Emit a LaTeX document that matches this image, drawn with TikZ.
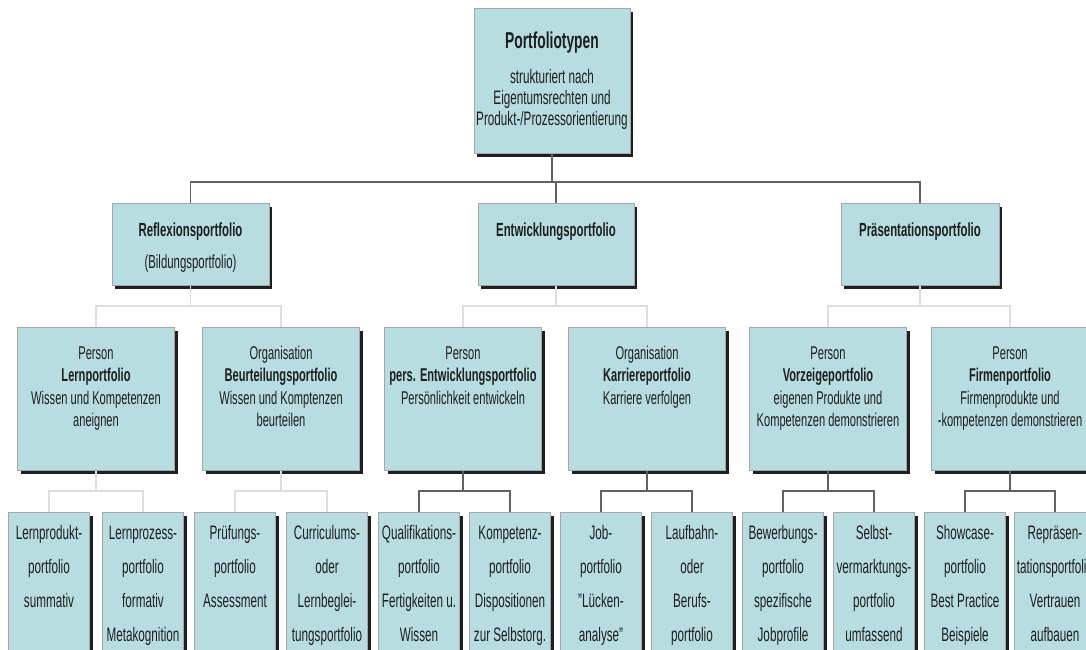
\documentclass[tikz,border=0pt]{standalone}
\usepackage{fontspec}
\setmainfont{Liberation Sans}[FakeStretch=0.6]
\usetikzlibrary{shadows}

\definecolor{boxfill}{RGB}{184,221,224}
\definecolor{txt}{RGB}{30,30,30}

% fixed-size cell: height, width, first baseline offset, content
\newcommand\cellbox[4]{\parbox[c][#1][t]{#2}{\centering\rule{0pt}{#3}#4\par}}
\newcommand\topfont{\fontsize{19.5}{21}\selectfont}
\newcommand\lvtwofont{\fontsize{19}{32}\selectfont}
\newcommand\lvthreefont{\fontsize{18.5}{22.5}\selectfont}
\newcommand\lvfourfont{\fontsize{19.5}{34}\selectfont}

\tikzset{
  pbox/.style={draw=black!35, line width=0.5pt, fill=boxfill, inner sep=0pt,
    anchor=north, text=txt,
    drop shadow={shadow xshift=3pt, shadow yshift=-3.5pt, opacity=1, fill=black!88}},
  darkline/.style={draw=black!62, line width=1.4pt},
  lightline/.style={draw=black!13, line width=1.8pt},
}

\begin{document}
\begin{tikzpicture}[x=1pt, y=-1pt]
\fill[white] (0,0) rectangle (1086,649);
\useasboundingbox (0,0) rectangle (1086,649);
\clip (0,0) rectangle (1086,649);

% bus lines of the three tree levels
\coordinate (busA) at (0,182);
\coordinate (busB) at (0,306);
\coordinate (busC) at (0,491);

% root
\node[pbox] (top) at (552,8) {\topfont\cellbox{145pt}{156pt}{40.5pt}{%
  {\fontsize{23}{25}\selectfont\bfseries Portfoliotypen}\\[13.5pt]
  strukturiert nach\\Eigentumsrechten und\\Produkt-/Prozessorientierung}};

% main types
\node[pbox] (ref) at (190.5,203) {\lvtwofont\cellbox{82pt}{157pt}{33pt}{%
  \textbf{Reflexionsportfolio}\\(Bildungsportfolio)}};
\node[pbox] (ent) at (556,203) {\lvtwofont\cellbox{82pt}{156pt}{33pt}{%
  \textbf{Entwicklungsportfolio}}};
\node[pbox] (pra) at (920,203) {\lvtwofont\cellbox{82pt}{158pt}{33pt}{%
  \textbf{Präsentationsportfolio}}};

% owner level
\node[pbox] (lern) at (96,327) {\lvthreefont\cellbox{143pt}{157pt}{32pt}{%
  Person\\\textbf{Lernportfolio}\\Wissen und Kompetenzen\\aneignen}};
\node[pbox] (beur) at (281,327) {\lvthreefont\cellbox{143pt}{157pt}{32pt}{%
  Organisation\\\textbf{Beurteilungsportfolio}\\Wissen und Komptenzen\\beurteilen}};
\node[pbox] (pers) at (463,327) {\lvthreefont\cellbox{143pt}{157pt}{32pt}{%
  Person\\\textbf{pers. Entwicklungsportfolio}\\Persönlichkeit entwickeln}};
\node[pbox] (karr) at (647,327) {\lvthreefont\cellbox{143pt}{157pt}{32pt}{%
  Organisation\\\textbf{Karriereportfolio}\\Karriere verfolgen}};
\node[pbox] (vorz) at (828,327) {\lvthreefont\cellbox{143pt}{157pt}{32pt}{%
  Person\\\textbf{Vorzeigeportfolio}\\eigenen Produkte und\\Kompetenzen demonstrieren}};
\node[pbox] (firm) at (1010,327) {\lvthreefont\cellbox{143pt}{157pt}{32pt}{%
  Person\\\textbf{Firmenportfolio}\\Firmenprodukte und\\-kompetenzen demonstrieren}};

% leaf portfolios
\node[pbox] (l1) at (49,512) {\lvfourfont\cellbox{148pt}{81pt}{27.5pt}{%
  Lernprodukt-\\portfolio\\summativ}};
\node[pbox] (l2) at (143,512) {\lvfourfont\cellbox{148pt}{81pt}{27.5pt}{%
  Lernprozess-\\portfolio\\formativ\\Metakognition}};
\node[pbox] (l3) at (235,512) {\lvfourfont\cellbox{148pt}{81pt}{27.5pt}{%
  Prüfungs-\\portfolio\\Assessment}};
\node[pbox] (l4) at (327,512) {\lvfourfont\cellbox{148pt}{81pt}{27.5pt}{%
  Curriculums-\\oder\\Lernbeglei-\\tungsportfolio}};
\node[pbox] (l5) at (419,512) {\lvfourfont\cellbox{148pt}{81pt}{27.5pt}{%
  Qualifikations-\\portfolio\\Fertigkeiten u.\\Wissen}};
\node[pbox] (l6) at (510,512) {\lvfourfont\cellbox{148pt}{81pt}{27.5pt}{%
  Kompetenz-\\portfolio\\Dispositionen\\zur Selbstorg.}};
\node[pbox] (l7) at (601,512) {\lvfourfont\cellbox{148pt}{81pt}{27.5pt}{%
  Job-\\portfolio\\"Lücken-\\analyse"}};
\node[pbox] (l8) at (692,512) {\lvfourfont\cellbox{148pt}{81pt}{27.5pt}{%
  Laufbahn-\\oder\\Berufs-\\portfolio}};
\node[pbox] (l9) at (783,512) {\lvfourfont\cellbox{148pt}{81pt}{27.5pt}{%
  Bewerbungs-\\portfolio\\spezifische\\Jobprofile}};
\node[pbox] (l10) at (874,512) {\lvfourfont\cellbox{148pt}{81pt}{27.5pt}{%
  Selbst-\\vermarktungs-\\portfolio\\umfassend}};
\node[pbox] (l11) at (965,512) {\lvfourfont\cellbox{148pt}{81pt}{27.5pt}{%
  Showcase-\\portfolio\\Best Practice\\Beispiele}};
\node[pbox] (l12) at (1055,512) {\lvfourfont\cellbox{148pt}{81pt}{27.5pt}{%
  Repräsen-\\tationsportfolio\\Vertrauen\\aufbauen}};

% root to main types
\draw[darkline] (top.south) -- (top.south |- busA);
\draw[darkline] (ref.north) -- (ref.north |- busA) -- (pra.north |- busA) -- (pra.north);
\draw[darkline] (ent.north) -- (ent.north |- busA);

% main types to owner level
\foreach \p/\a/\b in {ref/lern/beur, ent/pers/karr, pra/vorz/firm} {
  \draw[lightline] (\p.south) -- (\p.south |- busB);
  \draw[lightline] (\a.north) -- (\a.north |- busB) -- (\b.north |- busB) -- (\b.north);
}

% owner level to leaves
\foreach \p/\a/\b/\s in {lern/l1/l2/lightline, beur/l3/l4/lightline,
    pers/l5/l6/darkline, karr/l7/l8/darkline, vorz/l9/l10/darkline, firm/l11/l12/darkline} {
  \draw[\s] (\p.south) -- (\p.south |- busC);
  \draw[\s] (\a.north) -- (\a.north |- busC) -- (\b.north |- busC) -- (\b.north);
}
\end{tikzpicture}
\end{document}
